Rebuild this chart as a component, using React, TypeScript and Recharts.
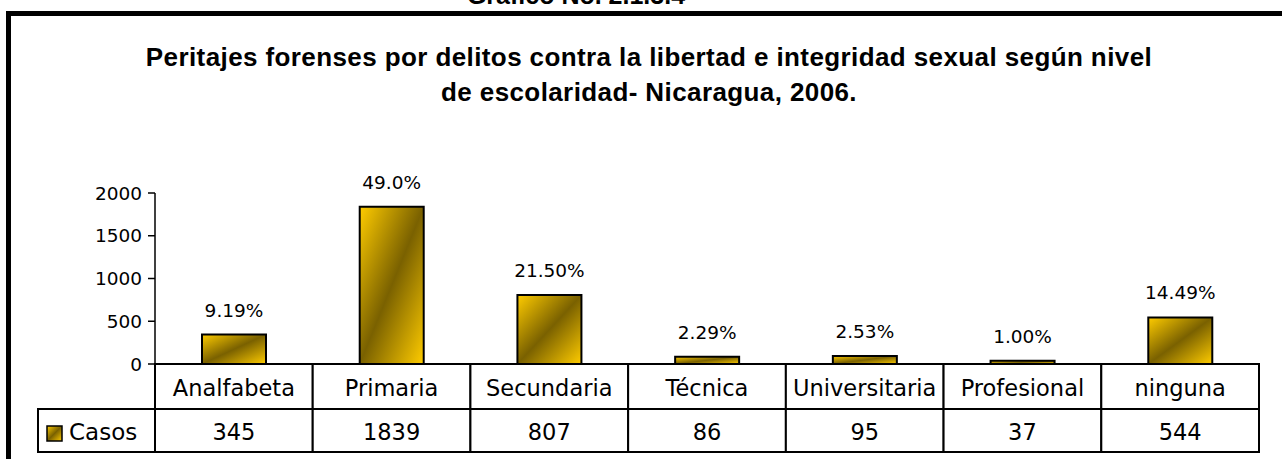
import React from "react";
import { BarChart, Bar, XAxis, YAxis, LabelList } from "recharts";

// datos del grafico
const niveles = ["Analfabeta", "Primaria", "Secundaria", "Técnica", "Universitaria", "Profesional", "ninguna"];
const casos = [345, 1839, 807, 86, 95, 37, 544];
const porcentajes = ["9.19%", "49.0%", "21.50%", "2.29%", "2.53%", "1.00%", "14.49%"];
const yTicks = [0, 500, 1000, 1500, 2000];
const serie = "Casos";
const grafico = "Grafico No. 2.1.3.4";
const titulo1 = "Peritajes forenses por delitos contra la libertad e integridad sexual según nivel";
const titulo2 = "de escolaridad- Nicaragua, 2006.";

const data = niveles.map((nivel, i) => ({ nivel, casos: casos[i], pct: porcentajes[i] }));

const W = 1282;
const H = 459;
const PLOT_LEFT = 155;
const PLOT_RIGHT = 1259;
const TABLE_TOP = 364;
const ROW1 = 45;
const ROW2 = 43;
const BW = (PLOT_RIGHT - PLOT_LEFT) / niveles.length;
const FONT = "'DejaVu Sans', sans-serif";
const TITLE_FONT = "'Liberation Sans', Arial, sans-serif";

const TablaTick = (props: any) => {
  const { x, payload, index } = props;
  const left = x - BW / 2;
  const y2 = TABLE_TOP + ROW1;
  return (
    <g>
      {index === 0 && (
        <g>
          <rect x={38} y={y2} width={left - 38} height={ROW2} fill="#fff" stroke="#000" strokeWidth={2} />
          <rect x={47} y={y2 + 17} width={15} height={15} fill="url(#oro)" stroke="#000" strokeWidth={1.5} />
          <text x={69} y={y2 + ROW2 / 2 + 1} dominantBaseline="central" fontSize={23} fontFamily={FONT} fill="#000">
            {serie}
          </text>
        </g>
      )}
      <rect x={left} y={TABLE_TOP} width={BW} height={ROW1} fill="#fff" stroke="#000" strokeWidth={2} />
      <text x={x} y={TABLE_TOP + ROW1 / 2 + 1} textAnchor="middle" dominantBaseline="central" fontSize={22.5} fontFamily={FONT} fill="#000">
        {payload.value}
      </text>
      <rect x={left} y={y2} width={BW} height={ROW2} fill="#fff" stroke="#000" strokeWidth={2} />
      <text x={x} y={y2 + ROW2 / 2 + 1} textAnchor="middle" dominantBaseline="central" fontSize={22.5} fontFamily={FONT} fill="#000">
        {casos[index]}
      </text>
    </g>
  );
};

export default function App() {
  return (
    <div style={{ position: "absolute", left: 0, top: 0, width: W, height: H, overflow: "hidden", background: "#fff" }}>
      <div
        style={{
          position: "absolute",
          left: 6,
          top: 11,
          width: 1400,
          height: 600,
          borderLeft: "5px solid #000",
          borderTop: "5px solid #000",
        }}
      />
      <div
        style={{
          position: "absolute",
          left: 0,
          width: 1152,
          top: -18,
          textAlign: "center",
          fontFamily: TITLE_FONT,
          fontWeight: "bold",
          fontSize: 25,
          lineHeight: "26px",
        }}
      >
        {grafico}
      </div>
      <div
        style={{
          position: "absolute",
          left: 0,
          width: 1298,
          top: 40,
          textAlign: "center",
          fontFamily: TITLE_FONT,
          fontWeight: "bold",
          fontSize: 26,
          letterSpacing: 0.4,
          lineHeight: "35px",
        }}
      >
        {titulo1}
        <br />
        {titulo2}
      </div>
      <div style={{ position: "absolute", left: 0, top: 0 }}>
        <BarChart width={W} height={H} data={data} margin={{ top: 193, right: W - PLOT_RIGHT, bottom: 0, left: 0 }}>
          <defs>
            <linearGradient id="oro" x1="0" y1="0" x2="1" y2="1">
              <stop offset="0%" stopColor="#FFCC00" />
              <stop offset="50%" stopColor="#7A6100" />
              <stop offset="100%" stopColor="#FFCC00" />
            </linearGradient>
          </defs>
          <XAxis dataKey="nivel" height={H - TABLE_TOP} axisLine={false} tickLine={false} interval={0} tick={<TablaTick />} />
          <YAxis
            width={PLOT_LEFT}
            domain={[0, 2000]}
            ticks={yTicks}
            tickSize={7}
            tickMargin={6}
            stroke="#000"
            axisLine={{ stroke: "#000", strokeWidth: 1.5 }}
            tickLine={{ stroke: "#000", strokeWidth: 1.5 }}
            tick={{ fill: "#000", fontSize: 18.5, fontFamily: FONT }}
          />
          <Bar dataKey="casos" barSize={64} fill="url(#oro)" stroke="#000" strokeWidth={2} isAnimationActive={false}>
            <LabelList dataKey="pct" position="top" offset={18} fill="#000" fontSize={18.5} fontFamily={FONT} />
          </Bar>
        </BarChart>
      </div>
    </div>
  );
}
